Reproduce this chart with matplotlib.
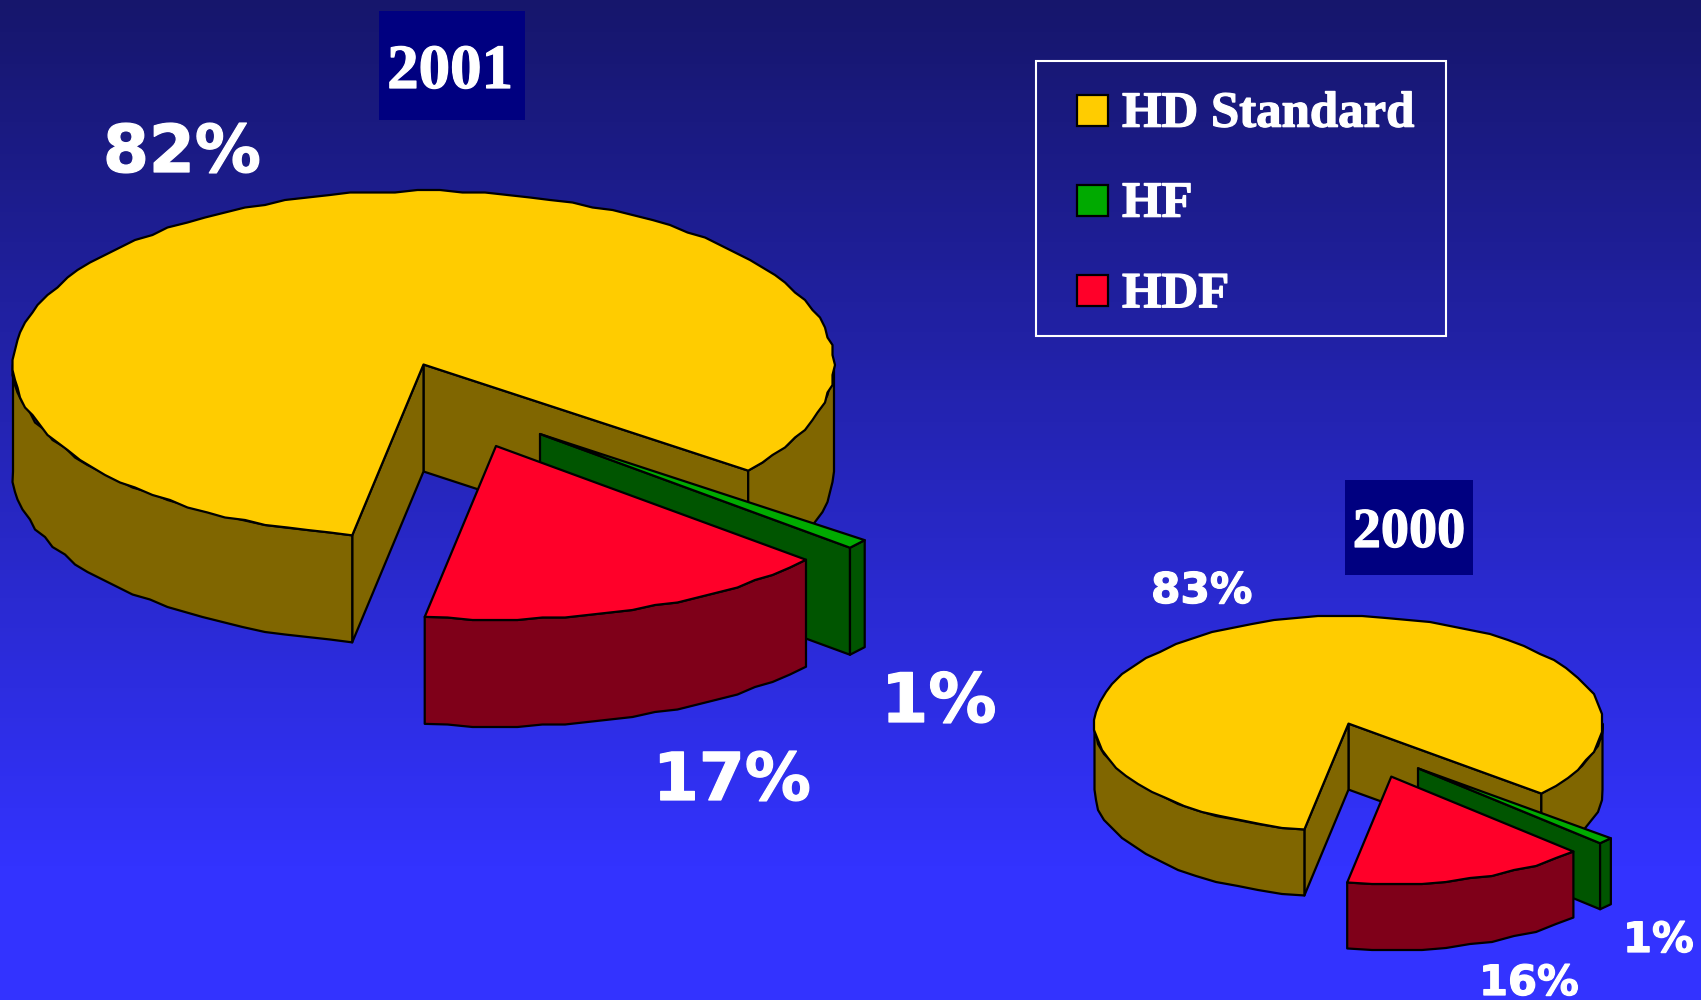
import matplotlib
matplotlib.use('Agg')
import matplotlib.pyplot as plt
from matplotlib.colors import LinearSegmentedColormap
from matplotlib.patches import Polygon, Rectangle
import matplotlib.patheffects as pe
import numpy as np

categories = ['HD Standard', 'HF', 'HDF']

# slice sizes, labels as printed on it
shares_2001 = [82.7, 0.9, 16.4]
shares_2000 = [83.5, 1.0, 15.5]
labels_2001 = ['82%', '1%', '17%']
labels_2000 = ['83%', '1%', '16%']

top_colors = ['#FFCC00', '#00AA00', '#FF0029']
side_colors = ['#806600', '#005500', '#7F0019']

SERIF = 'Liberation Serif'
SANS = 'DejaVu Sans'
LW = 1.6


def arc(cx, cy, rx, ry, a0, a1, step=0):
    # about one point every 20 px along the rim
    n = max(2, int(abs(a1 - a0) / 360 * rx / 3.5))
    t = np.radians(np.linspace(a0, a1, n))
    pts = np.column_stack([cx + rx * np.cos(t), cy - ry * np.sin(t)])
    # the outline of the original wobbles, it was scaled up from low res
    if step:
        first, last = pts[0].copy(), pts[-1].copy()
        pts = np.round(pts / step) * step
        pts[0], pts[-1] = first, last
    return pts


def add_poly(ax, pts, color):
    ax.add_patch(Polygon(pts, closed=True, facecolor=color, edgecolor='black',
                         linewidth=LW, joinstyle='round'))


def draw_slice(ax, cx, cy, rx, ry, depth, a0, a1, top, side, step):
    # radial faces, only the ones turned towards the viewer
    apex = np.array([cx, cy])
    down = np.array([0, depth])
    for ang, visible in [(a0, np.cos(np.radians(a0)) > 0), (a1, np.cos(np.radians(a1)) < 0)]:
        if visible:
            rim = arc(cx, cy, rx, ry, ang, ang)[0]
            add_poly(ax, [apex, rim, rim + down, apex + down], side)

    # outer wall, front half of the ellipse only
    for lo, hi in [(-180, 0), (180, 360)]:
        s, e = max(a0, lo), min(a1, hi)
        if s < e:
            edge = arc(cx, cy, rx, ry, s, e, step)
            add_poly(ax, np.vstack([edge, (edge + down)[::-1]]), side)

    add_poly(ax, np.vstack([apex, arc(cx, cy, rx, ry, a0, a1, step)]), top)


def draw_pie(ax, shares, cx, cy, rx, ry, depth, start, hf_shift, hdf_shift, step):
    spans = [s * 3.6 for s in shares]
    hdf_end = start + spans[2]
    hf_end = hdf_end + spans[1]
    yellow_end = hf_end + spans[0]
    draw_slice(ax, cx, cy, rx, ry, depth, hf_end, yellow_end, top_colors[0], side_colors[0], step)
    draw_slice(ax, cx + hf_shift[0], cy + hf_shift[1], rx, ry, depth, hdf_end, hf_end,
               top_colors[1], side_colors[1], step)
    draw_slice(ax, cx + hdf_shift[0], cy + hdf_shift[1], rx, ry, depth, start, hdf_end,
               top_colors[2], side_colors[2], step)


fig = plt.figure(figsize=(17.01, 10), dpi=100)
ax = fig.add_axes([0, 0, 1, 1])
ax.set_xlim(0, 1701)
ax.set_ylim(1000, 0)
ax.axis('off')

# background gradient
bg = LinearSegmentedColormap.from_list('bg', [(0, '#16166C'), (0.87, '#3333FF'), (1, '#3333FF')])
ax.imshow(np.linspace(0, 1, 500).reshape(-1, 1), cmap=bg, extent=(0, 1701, 1000, 0),
          aspect='auto', zorder=0)

draw_pie(ax, shares_2001, 423.5, 364.5, 410.5, 173.5, 107, -100, (116.5, 69.5), (72.5, 81.5), 2.5)
draw_pie(ax, shares_2000, 1348.5, 723.6, 254, 107.5, 66, -100, (69.5, 44.7), (42.8, 53), 2)

heavy = [pe.withStroke(linewidth=0.9, foreground='white')]

# year boxes
ax.add_patch(Rectangle((379, 11), 146, 109, facecolor='#000080', edgecolor='none'))
ax.add_patch(Rectangle((1345, 480), 128, 95, facecolor='#000080', edgecolor='none'))
ax.text(450, 88, '2001', color='white', family=SERIF, weight='bold', fontsize=45.3,
        ha='center', va='baseline', path_effects=heavy)
ax.text(1409, 547, '2000', color='white', family=SERIF, weight='bold', fontsize=40.5,
        ha='center', va='baseline', path_effects=heavy)

# percent labels
for txt, x, y, size in zip(labels_2001, [103, 881, 653], [172, 722, 800], [47.5, 49, 47.5]):
    ax.text(x, y, txt, color='white', family=SANS, weight='bold', fontsize=size, va='baseline',
            path_effects=heavy)
for txt, x, y, size in zip(labels_2000, [1151, 1623, 1479], [603, 952, 995], [30.5, 30, 30]):
    ax.text(x, y, txt, color='white', family=SANS, weight='bold', fontsize=size, va='baseline',
            path_effects=heavy)

# legend
ax.add_patch(Rectangle((1036, 61), 410, 275, facecolor='none', edgecolor='white', linewidth=1.5))
for name, color, y0, base in zip(categories, top_colors, [94.5, 184.5, 275], [126.7, 216.7, 307.3]):
    ax.add_patch(Rectangle((1077, y0), 30.5, 31, facecolor=color, edgecolor='black', linewidth=LW))
    ax.text(1122, base, name, color='white', family=SERIF, weight='bold', fontsize=36.6,
            va='baseline', path_effects=heavy)

fig.savefig('out.png', dpi=100)
